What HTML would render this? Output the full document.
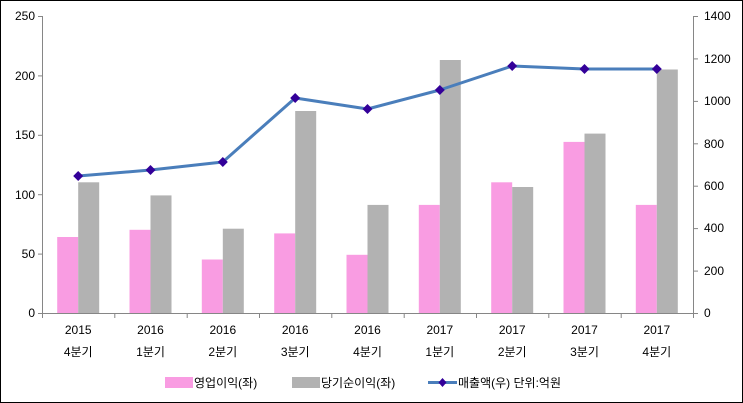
<!DOCTYPE html>
<html><head><meta charset="utf-8"><style>
html,body{margin:0;padding:0;background:#fff}
svg{display:block}
text{font-family:"Liberation Sans","Noto Sans CJK KR",sans-serif;font-size:12px;fill:#000}
</style></head><body>
<svg width="743" height="403" viewBox="0 0 743 403">
<rect x="0.5" y="0.5" width="742" height="402" fill="#fff" stroke="#000"/>
<g stroke="#868686" stroke-width="1">
<line x1="42.5" y1="16" x2="42.5" y2="313"/>
<line x1="693.5" y1="16" x2="693.5" y2="313"/>
<line x1="42" y1="313.5" x2="694" y2="313.5"/>
<line x1="38" y1="16.5" x2="42" y2="16.5"/><line x1="38" y1="75.9" x2="42" y2="75.9"/><line x1="38" y1="135.3" x2="42" y2="135.3"/><line x1="38" y1="194.7" x2="42" y2="194.7"/><line x1="38" y1="254.1" x2="42" y2="254.1"/><line x1="38" y1="313.5" x2="42" y2="313.5"/>
<line x1="693" y1="16.5" x2="698" y2="16.5"/><line x1="693" y1="58.9" x2="698" y2="58.9"/><line x1="693" y1="101.4" x2="698" y2="101.4"/><line x1="693" y1="143.8" x2="698" y2="143.8"/><line x1="693" y1="186.2" x2="698" y2="186.2"/><line x1="693" y1="228.6" x2="698" y2="228.6"/><line x1="693" y1="271.1" x2="698" y2="271.1"/><line x1="693" y1="313.5" x2="698" y2="313.5"/>
<line x1="42.5" y1="313" x2="42.5" y2="318"/><line x1="114.8" y1="313" x2="114.8" y2="318"/><line x1="187.2" y1="313" x2="187.2" y2="318"/><line x1="259.5" y1="313" x2="259.5" y2="318"/><line x1="331.8" y1="313" x2="331.8" y2="318"/><line x1="404.2" y1="313" x2="404.2" y2="318"/><line x1="476.5" y1="313" x2="476.5" y2="318"/><line x1="548.8" y1="313" x2="548.8" y2="318"/><line x1="621.2" y1="313" x2="621.2" y2="318"/><line x1="693.5" y1="313" x2="693.5" y2="318"/>
</g>
<g text-anchor="end">
<text x="35" y="20">250</text><text x="35" y="80">200</text><text x="35" y="139">150</text><text x="35" y="199">100</text><text x="35" y="258">50</text><text x="35" y="317">0</text>
</g>
<g text-anchor="start">
<text x="704" y="20">1400</text><text x="704" y="63">1200</text><text x="704" y="105">1000</text><text x="704" y="148">800</text><text x="704" y="190">600</text><text x="704" y="232">400</text><text x="704" y="275">200</text><text x="704" y="317">0</text>
</g>
<g fill="#f99ce2">
<rect x="57.2" y="237" width="21" height="76"/>
<rect x="129.5" y="229.8" width="21" height="83.2"/>
<rect x="201.8" y="259.5" width="21" height="53.5"/>
<rect x="274.2" y="233.4" width="21" height="79.6"/>
<rect x="346.5" y="254.8" width="21" height="58.2"/>
<rect x="418.8" y="204.9" width="21" height="108.1"/>
<rect x="491.2" y="182.3" width="21" height="130.7"/>
<rect x="563.5" y="141.9" width="21" height="171.1"/>
<rect x="635.8" y="204.9" width="21" height="108.1"/>
</g>
<g fill="#b2b2b2">
<rect x="78.2" y="182.3" width="21" height="130.7"/>
<rect x="150.5" y="195.4" width="21" height="117.6"/>
<rect x="222.8" y="228.7" width="21" height="84.3"/>
<rect x="295.2" y="111" width="21" height="202"/>
<rect x="367.5" y="204.9" width="21" height="108.1"/>
<rect x="439.8" y="60" width="21" height="253"/>
<rect x="512.2" y="187" width="21" height="126"/>
<rect x="584.5" y="133.6" width="21" height="179.4"/>
<rect x="656.8" y="69.5" width="21" height="243.5"/>
</g>
<polyline points="78.2,176 150.5,170 222.8,162 295.2,98 367.5,109 439.8,90 512.2,66 584.5,69 656.8,69" fill="none" stroke="#4a7ebb" stroke-width="3" stroke-linejoin="round"/>
<g fill="#330099">
<path d="M78.2,171 l5,5 l-5,5 l-5,-5z"/>
<path d="M150.5,165 l5,5 l-5,5 l-5,-5z"/>
<path d="M222.8,157 l5,5 l-5,5 l-5,-5z"/>
<path d="M295.2,93 l5,5 l-5,5 l-5,-5z"/>
<path d="M367.5,104 l5,5 l-5,5 l-5,-5z"/>
<path d="M439.8,85 l5,5 l-5,5 l-5,-5z"/>
<path d="M512.2,61 l5,5 l-5,5 l-5,-5z"/>
<path d="M584.5,64 l5,5 l-5,5 l-5,-5z"/>
<path d="M656.8,64 l5,5 l-5,5 l-5,-5z"/>
</g>
<g text-anchor="middle">
<text x="78.2" y="334">2015</text><text x="78.2" y="356">4분기</text>
<text x="150.5" y="334">2016</text><text x="150.5" y="356">1분기</text>
<text x="222.8" y="334">2016</text><text x="222.8" y="356">2분기</text>
<text x="295.2" y="334">2016</text><text x="295.2" y="356">3분기</text>
<text x="367.5" y="334">2016</text><text x="367.5" y="356">4분기</text>
<text x="439.8" y="334">2017</text><text x="439.8" y="356">1분기</text>
<text x="512.2" y="334">2017</text><text x="512.2" y="356">2분기</text>
<text x="584.5" y="334">2017</text><text x="584.5" y="356">3분기</text>
<text x="656.8" y="334">2017</text><text x="656.8" y="356">4분기</text>
</g>
<rect x="165" y="377" width="28" height="11" fill="#f99ce2"/>
<text x="194" y="387">영업이익(좌)</text>
<rect x="292" y="377" width="28" height="11" fill="#b2b2b2"/>
<text x="321" y="387">당기순이익(좌)</text>
<line x1="428" y1="382.5" x2="457" y2="382.5" stroke="#4a7ebb" stroke-width="3"/>
<path d="M442.5,378 l4,4.5 l-4,4.5 l-4,-4.5z" fill="#330099"/>
<text x="458" y="387">매출액(우)  단위:억원</text>
</svg>
</body></html>
